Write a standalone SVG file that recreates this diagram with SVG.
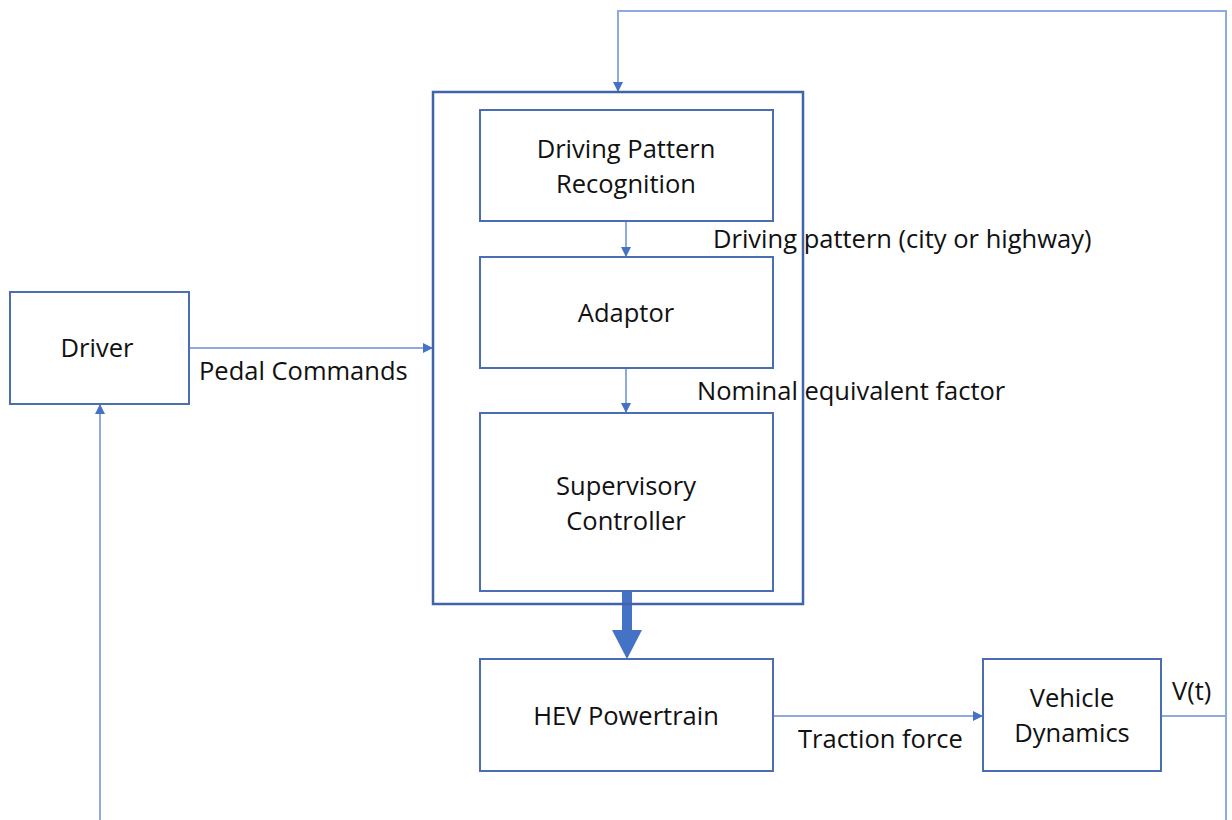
<svg xmlns="http://www.w3.org/2000/svg" width="1232" height="820" viewBox="0 0 1232 820">
<style>
.box{fill:#fff;stroke:#4a6db3;stroke-width:2}
.outer{fill:none;stroke:#3f64a9;stroke-width:2.5}
.conn{fill:none;stroke:#8eaadf;stroke-width:2}
.t{font-family:"Open Sans","Liberation Sans",sans-serif;font-size:25.5px;fill:#111}
.c{text-anchor:middle}
</style>
<defs>
<marker id="ah" viewBox="0 0 10 10" refX="10" refY="5" markerWidth="10" markerHeight="10" orient="auto" markerUnits="userSpaceOnUse">
<path d="M0,0 L10,5 L0,10 z" fill="#4472c4"/>
</marker>
</defs>
<g id="connectors">
<line class="conn" x1="189" y1="348" x2="433" y2="348" marker-end="url(#ah)"/>
<line class="conn" x1="626" y1="221" x2="626" y2="257" stroke="#4f79c8" marker-end="url(#ah)"/>
<line class="conn" x1="626" y1="368" x2="626" y2="413" stroke="#4f79c8" marker-end="url(#ah)"/>
<line class="conn" x1="773" y1="716" x2="983" y2="716" marker-end="url(#ah)"/>
<polyline class="conn" points="1161,716 1226,716"/>
<polyline class="conn" points="1226,820 1226,11 618,11 618,92" marker-end="url(#ah)"/>
<line class="conn" x1="100" y1="820" x2="100" y2="404" marker-end="url(#ah)"/>
<rect x="622" y="592" width="10" height="40" fill="#4472c4"/>
<path d="M612,630 L642,630 L627,659 z" fill="#4472c4"/>
</g>
<g id="controller-group">
<rect class="outer" x="433" y="92" width="370" height="512"/>
</g>
<g id="driver">
<rect class="box" x="10" y="292" width="179" height="112"/>
<text class="t c" x="97" y="357">Driver</text>
</g>
<text class="t" x="199" y="380">Pedal Commands</text>
<g id="dpr">
<rect class="box" x="480" y="110" width="293" height="111"/>
<text class="t c" x="626" y="158">Driving Pattern</text>
<text class="t c" x="626" y="193">Recognition</text>
</g>
<text class="t" x="713" y="248">Driving pattern (city or highway)</text>
<g id="adaptor">
<rect class="box" x="480" y="257" width="293" height="111"/>
<text class="t c" x="626" y="322">Adaptor</text>
</g>
<text class="t" x="697" y="400">Nominal equivalent factor</text>
<g id="supervisory">
<rect class="box" x="480" y="413" width="293" height="178"/>
<text class="t c" x="626" y="495">Supervisory</text>
<text class="t c" x="626" y="530">Controller</text>
</g>
<g id="hev">
<rect class="box" x="480" y="659" width="293" height="112"/>
<text class="t c" x="626" y="725">HEV Powertrain</text>
</g>
<text class="t" x="798" y="748">Traction force</text>
<g id="vehicle">
<rect class="box" x="983" y="659" width="178" height="112"/>
<text class="t c" x="1072" y="707">Vehicle</text>
<text class="t c" x="1072" y="742">Dynamics</text>
</g>
<text class="t" x="1172" y="700">V(t)</text>
</svg>
